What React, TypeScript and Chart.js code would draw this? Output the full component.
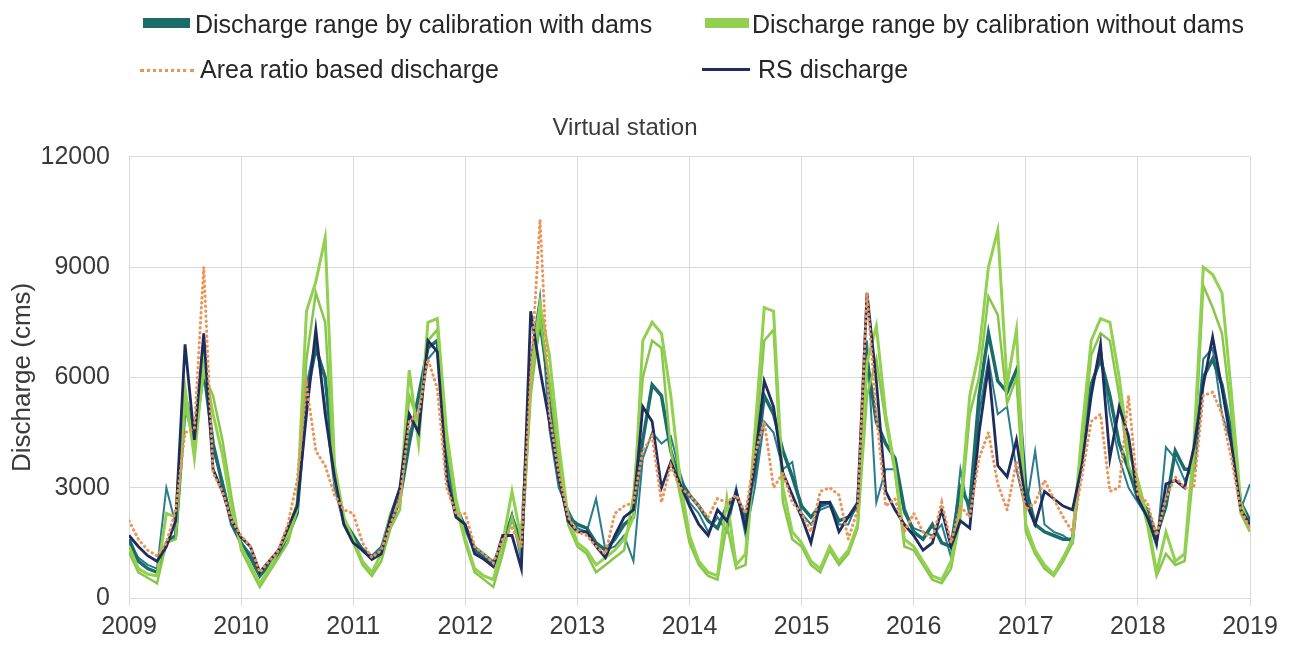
import React, { useEffect, useRef } from "react";
import { Chart, registerables } from "chart.js";

Chart.register(...registerables);

const START_YEAR = 2009;
const END_YEAR = 2019;
const MONTHS_PER_YEAR = 12;
const Y_MIN = 0;
const Y_MAX = 12000;
const Y_STEP = 3000;

const CHART_TITLE = "Virtual station";
const Y_TITLE = "Discharge (cms)";
const LABEL_WITH_DAMS = "Discharge range by calibration with dams";
const LABEL_WITHOUT_DAMS = "Discharge range by calibration without dams";
const LABEL_AREA_RATIO = "Area ratio based discharge";
const LABEL_RS = "RS discharge";

// Monthly values, Jan 2009 ... Jan 2019 (cms)
const rsDischarge = [
  1700, 1400, 1150, 1000, 1400, 2100, 6900, 4300, 7200, 3500, 2900, 2100,
  1650, 1400, 700, 1000, 1300, 1900, 2500, 5000, 7300, 5000, 3300, 2000,
  1500, 1300, 1050, 1200, 2200, 3000, 5000, 4500, 7000, 6700, 3300, 2200,
  2000, 1200, 1050, 850, 1700, 1700, 800, 7800, 6200, 4800, 3300, 2100,
  1800, 1800, 1400, 1100, 1700, 2200, 2400, 5200, 4800, 3000, 3700, 3100,
  2500, 2000, 1700, 2400, 2100, 2900, 1900, 3700, 5900, 5200, 3400, 2800,
  2200, 1500, 2600, 2600, 1800, 2200, 2600, 8300, 5900, 2900, 2400, 2000,
  1700, 1300, 1500, 2400, 1400, 2100, 1900, 4500, 6300, 3600, 3300, 4300,
  2600, 2000, 2900, 2700, 2500, 2400, 3600, 5500, 6900, 3800, 5200, 4400,
  2700, 2200, 1500, 3100, 3200, 3000, 4100, 5800, 7100, 5700, 4200, 2400,
  2000,
];

const withDamsA = [
  1600, 1000, 800, 700, 1500, 1700, 5200, 4400, 6200, 4200, 3100, 2000,
  1500, 1100, 600, 900, 1200, 1700, 2300, 5500, 6800, 6000, 3400, 2100,
  1700, 1300, 1100, 1300, 2000, 2700, 4200, 5500, 6800, 7000, 4000, 2500,
  1900, 1300, 1100, 900, 1400, 2200, 1500, 6000, 7500, 5700, 3300, 2200,
  2000, 1900, 1500, 1300, 1600, 2000, 2200, 4300, 5800, 5500, 4000, 3200,
  2800, 2500, 2100, 1900, 2500, 2800, 2200, 3400, 5500, 5000, 4000, 3300,
  2500, 2200, 2500, 2600, 2100, 2200, 2500, 6500, 4800, 4200, 3800, 2400,
  1800, 1600, 2000, 1500, 1400, 3000, 2500, 5500, 7200, 5900, 5600, 6200,
  3000, 2000, 1800, 1700, 1600, 1600, 4000, 5800, 6500, 5500, 4200, 3500,
  2700, 2400, 1700, 2500, 4000, 3500, 3500, 6000, 6500, 5800, 4500, 2600,
  2100,
];

const withDamsB = [
  1500, 1100, 900, 800, 3000, 2000, 5600, 4500, 6600, 4000, 3200, 2100,
  1500, 1200, 700, 900, 1300, 1800, 2400, 5800, 7000, 5200, 3000, 2000,
  1700, 1350, 1150, 1400, 2300, 3000, 4500, 5000, 6500, 6800, 3600, 2400,
  2000, 1400, 1200, 1000, 1500, 2300, 1000, 6500, 8200, 4600, 3000, 2400,
  1900, 1800, 2700, 1300, 1400, 1700, 1000, 3800, 4500, 4200, 4400, 3400,
  2600, 2300, 1800, 2200, 1800, 3000, 1700, 3000, 4800, 4500, 3500, 3700,
  2300, 2000, 2400, 2500, 2000, 2000, 2600, 7000, 2600, 3500, 3500, 2300,
  1900, 1800, 1700, 2000, 1100, 3500, 2200, 5000, 6500, 5000, 5200, 3500,
  2400, 4000, 2000, 1800, 1700, 1500, 4200, 5600, 6800, 5000, 3800, 3000,
  2600, 2200, 1400, 4100, 3800, 3200, 3600, 6500, 6800, 5000, 4200, 2400,
  3100,
];

const withoutDamsA = [
  1400, 800, 650, 600, 2300, 2200, 5700, 3800, 6400, 5000, 3900, 2400,
  1400, 900, 400, 800, 1300, 1700, 2600, 7800, 8600, 9800, 3600, 2200,
  1600, 1000, 700, 1200, 2300, 2600, 6200, 4200, 7500, 7600, 4500, 2700,
  1600, 800, 600, 500, 1500, 2900, 1600, 6000, 8000, 6600, 4200, 2200,
  1500, 1300, 900, 1100, 1300, 1600, 2200, 7000, 7500, 7200, 5500, 3200,
  1700, 1000, 700, 600, 2700, 900, 1200, 4500, 7900, 7800, 3000, 1800,
  1500, 1000, 800, 1400, 1000, 1300, 2000, 6400, 7400, 5000, 3500, 1600,
  1400, 1000, 600, 500, 1000, 2500, 5500, 6700, 9000, 10000, 5800, 7300,
  2000, 1300, 900, 650, 1100, 1600, 4500, 7000, 7600, 7500, 6000, 4000,
  3200, 2200, 700, 1800, 1000, 1200, 4200, 9000, 8800, 8300, 5600, 2600,
  1900,
];

const withoutDamsB = [
  1250, 700, 550, 400, 1500, 1600, 5200, 4200, 6100, 5500, 4300, 2700,
  1300, 800, 300, 700, 1100, 1500, 2400, 6500, 8300, 7500, 3200, 2000,
  1500, 900, 600, 1000, 1900, 2400, 5500, 4800, 7000, 7300, 4200, 2500,
  1500, 700, 500, 300, 1200, 2200, 1200, 5500, 7600, 5900, 3800, 2000,
  1400, 1200, 700, 900, 1100, 1300, 2800, 6000, 7000, 6800, 4000, 2800,
  1500, 900, 600, 500, 2000, 800, 900, 4000, 7000, 7300, 2600, 1600,
  1400, 900, 700, 1300, 900, 1200, 1900, 5500, 6500, 4800, 3400, 1400,
  1300, 900, 500, 400, 800, 2200, 5000, 6000, 8200, 7700, 5300, 6000,
  1800, 1200, 800, 600, 1000, 1500, 4000, 6600, 7200, 7000, 5500, 3600,
  3000, 2000, 600, 1200, 900, 1000, 3600, 8500, 7900, 7200, 5000, 2300,
  1800,
];

const areaRatio = [
  2100, 1600, 1300, 1150, 1500, 2400, 4500, 4600, 9000, 3400, 2900, 2100,
  1700, 1400, 700, 1000, 1300, 2000, 3200, 5800, 4000, 3600, 2800, 2400,
  2300, 1500, 1100, 1300, 2000, 2700, 4800, 5000, 6500, 5700, 3000, 2300,
  2300, 1400, 1200, 950, 1600, 1900, 1400, 6000, 10300, 5000, 3400, 2200,
  1800, 1700, 1400, 1200, 2300, 2500, 2600, 4000, 4400, 2600, 3600, 3000,
  2800, 2500, 2200, 2700, 2600, 2800, 2300, 3900, 4800, 3000, 3400, 2600,
  2300, 1800, 2900, 3000, 2800, 1600, 2400, 8300, 5000, 2500, 2700, 1800,
  2300, 1800, 1600, 2600, 1500, 2500, 2200, 3800, 4500, 3100, 2400, 3700,
  2400, 2600, 3200, 2700, 2200, 1800, 3300, 4800, 5000, 2900, 3000, 5500,
  2800, 2600, 1700, 2700, 3300, 3000, 3000, 5500, 5600, 5000, 3800, 2400,
  1900,
];

const COLORS = {
  tealA: "#1B6B68",
  tealB: "#2B7B8E",
  greenA: "#92D050",
  greenB: "#88C64A",
  orange: "#EB9459",
  navy: "#1F2D5E",
  grid: "#D9D9D9",
  text: "#3A3A3A",
};

const FONT = "'Liberation Sans', Arial, Helvetica, sans-serif";

const toPoints = (vals: number[]) =>
  vals.map((v, i) => ({ x: START_YEAR + i / MONTHS_PER_YEAR, y: v }));

export default function App() {
  const canvasRef = useRef<HTMLCanvasElement | null>(null);

  useEffect(() => {
    if (!canvasRef.current) return;
    const chart = new Chart(canvasRef.current, {
      type: "line",
      data: {
        datasets: [
          {
            label: LABEL_AREA_RATIO,
            data: toPoints(areaRatio),
            borderColor: COLORS.orange,
            borderWidth: 3,
            borderDash: [0.5, 4.5],
            borderCapStyle: "round",
          },
          {
            label: LABEL_RS,
            data: toPoints(rsDischarge),
            borderColor: COLORS.navy,
            borderWidth: 2.8,
          },
          {
            label: LABEL_WITHOUT_DAMS,
            data: toPoints(withoutDamsA),
            borderColor: COLORS.greenA,
            borderWidth: 3,
          },
          {
            label: LABEL_WITHOUT_DAMS + " (2)",
            data: toPoints(withoutDamsB),
            borderColor: COLORS.greenB,
            borderWidth: 2.5,
          },
          {
            label: LABEL_WITH_DAMS,
            data: toPoints(withDamsA),
            borderColor: COLORS.tealA,
            borderWidth: 3.5,
          },
          {
            label: LABEL_WITH_DAMS + " (2)",
            data: toPoints(withDamsB),
            borderColor: COLORS.tealB,
            borderWidth: 2,
          },
        ] as any,
      },
      options: {
        animation: false,
        responsive: false,
        devicePixelRatio: 1,
        elements: { point: { radius: 0 }, line: { tension: 0 } },
        layout: { padding: { top: 95, right: 43, left: 0, bottom: 0 } },
        plugins: {
          legend: { display: false },
          tooltip: { enabled: false },
          title: {
            display: true,
            text: CHART_TITLE,
            color: COLORS.text,
            font: { family: FONT, size: 24, weight: "normal" },
            padding: { top: 19, bottom: 14 },
          },
        },
        scales: {
          x: {
            type: "linear",
            min: START_YEAR,
            max: END_YEAR,
            ticks: {
              stepSize: 1,
              autoSkip: false,
              maxRotation: 0,
              color: COLORS.text,
              font: { family: FONT, size: 25 },
              padding: 6,
              callback: (v: any) => String(v),
            },
            grid: { color: COLORS.grid, drawTicks: true, tickLength: 8 },
            border: { color: COLORS.grid },
            afterFit: (s: any) => {
              s.height = 50;
            },
          },
          y: {
            min: Y_MIN,
            max: Y_MAX,
            ticks: {
              stepSize: Y_STEP,
              color: COLORS.text,
              font: { family: FONT, size: 25 },
              padding: 19,
              callback: (v: any) => String(v),
            },
            grid: { color: COLORS.grid, drawTicks: false },
            border: { color: COLORS.grid },
            title: {
              display: true,
              text: Y_TITLE,
              color: COLORS.text,
              font: { family: FONT, size: 26 },
              padding: { top: 7, bottom: 0 },
            },
            afterFit: (s: any) => {
              s.width = 129;
            },
          },
        },
      } as any,
    });
    return () => chart.destroy();
  }, []);

  const textStyle: React.CSSProperties = {
    position: "absolute",
    fontFamily: FONT,
    fontSize: 25,
    lineHeight: "30px",
    color: "#262626",
    whiteSpace: "nowrap",
  };

  return (
    <div
      style={{
        position: "fixed",
        left: 0,
        top: 0,
        width: 1293,
        height: 648,
        background: "#ffffff",
        overflow: "hidden",
      }}
    >
      <canvas
        ref={canvasRef}
        width={1293}
        height={648}
        style={{ position: "absolute", left: 0, top: 0, width: 1293, height: 648 }}
      />
      <div style={{ position: "absolute", left: 143, top: 18, width: 47, height: 10, background: COLORS.tealA }} />
      <div style={{ ...textStyle, left: 195, top: 9 }}>{LABEL_WITH_DAMS}</div>
      <div style={{ position: "absolute", left: 705, top: 18, width: 44, height: 10, background: COLORS.greenA }} />
      <div style={{ ...textStyle, left: 752, top: 9 }}>{LABEL_WITHOUT_DAMS}</div>
      <div
        style={{
          position: "absolute",
          left: 140,
          top: 69,
          width: 54,
          height: 0,
          borderTop: `3px dotted ${COLORS.orange}`,
        }}
      />
      <div style={{ ...textStyle, left: 200, top: 54 }}>{LABEL_AREA_RATIO}</div>
      <div style={{ position: "absolute", left: 702, top: 68, width: 48, height: 3, background: COLORS.navy }} />
      <div style={{ ...textStyle, left: 758, top: 54 }}>{LABEL_RS}</div>
    </div>
  );
}
